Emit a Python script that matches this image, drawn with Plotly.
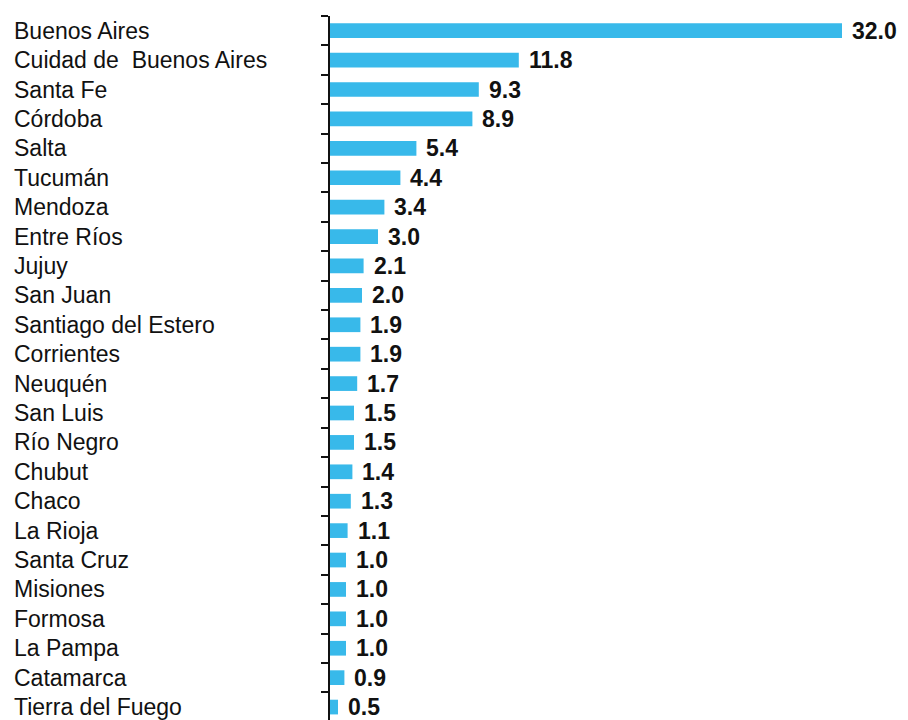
import plotly.graph_objects as go

provinces = ["Buenos Aires", "Cuidad de\u00a0 Buenos Aires", "Santa Fe", "Córdoba", "Salta",
             "Tucumán", "Mendoza", "Entre Ríos", "Jujuy", "San Juan",
             "Santiago del Estero", "Corrientes", "Neuquén", "San Luis", "Río Negro",
             "Chubut", "Chaco", "La Rioja", "Santa Cruz", "Misiones",
             "Formosa", "La Pampa", "Catamarca", "Tierra del Fuego"]
values = [32.0, 11.8, 9.3, 8.9, 5.4, 4.4, 3.4, 3.0, 2.1, 2.0,
          1.9, 1.9, 1.7, 1.5, 1.5, 1.4, 1.3, 1.1, 1.0, 1.0,
          1.0, 1.0, 0.9, 0.5]
value_labels = [f"{v:.1f}" for v in values]

# page body has an 8px margin, so the figure is 8px smaller and shifted
W, H = 900, 712
FONT = "Liberation Sans, Arial, sans-serif"
fig = go.Figure()
fig.add_trace(go.Bar(
    x=values, y=provinces, orientation="h",
    marker=dict(color="#38B9EA", line=dict(width=0)),
    width=0.5, hoverinfo="skip",
))

annotations = []
for p, v, t in zip(provinces, values, value_labels):
    annotations.append(dict(x=v, y=p, xref="x", yref="y", text=t, showarrow=False,
                            xanchor="left", yanchor="middle", xshift=8,
                            font=dict(family=FONT, size=23, color="#111111", weight="bold")))
    annotations.append(dict(x=4 / W, y=p, xref="paper", yref="y", text=p, showarrow=False,
                            xanchor="left", yanchor="middle",
                            font=dict(family=FONT, size=23, color="#111111")))

fig.update_layout(
    width=W, height=H,
    margin=dict(l=0, r=0, t=8, b=0),
    paper_bgcolor="white", plot_bgcolor="white",
    showlegend=False,
    annotations=annotations,
    xaxis=dict(domain=[322 / W, 1], range=[0, 36.125], visible=False, fixedrange=True),
    yaxis=dict(type="category", categoryorder="array", categoryarray=provinces,
               range=[23.44, -0.5], showline=True, linecolor="#111111", linewidth=1.5,
               ticks="outside", ticklen=7, tickwidth=1.5, tickcolor="#111111",
               tickson="boundaries", showticklabels=False, showgrid=False,
               zeroline=False, fixedrange=True),
)

fig.write_html("out.html")
